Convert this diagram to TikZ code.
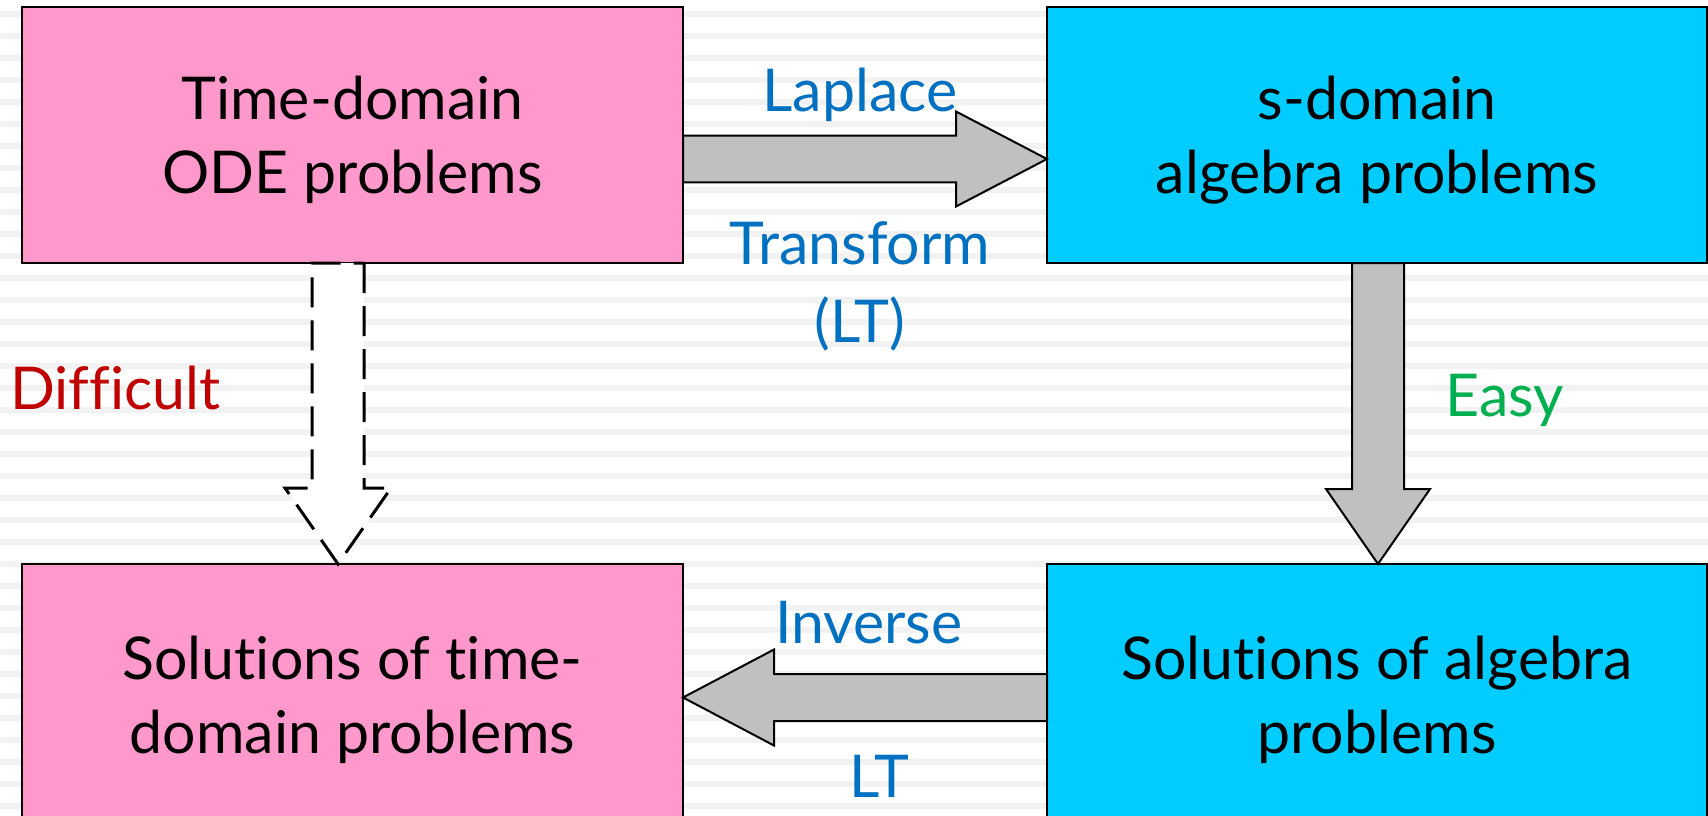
\documentclass[tikz,border=0pt]{standalone}
\usepackage{fontspec}
\setmainfont{Lato}[Ligatures={NoCommon}]
\usetikzlibrary{calc}
\definecolor{pinkbox}{HTML}{FF99CC}
\definecolor{cyanbox}{HTML}{00CCFF}
\definecolor{arrowgray}{HTML}{C0C0C0}
\definecolor{stripe}{HTML}{F2F2F2}
\definecolor{lblue}{HTML}{0070C0}
\definecolor{lred}{HTML}{C00000}
\definecolor{lgreen}{HTML}{00B050}
\tikzset{
  box/.style={draw=black, line width=2pt, minimum width=661pt, minimum height=256pt, inner sep=0pt, outer sep=0pt},
  boxtext/.style={font=\fontsize{59}{74}\selectfont, align=center, anchor=base, inner sep=0pt},
  lbl/.style={font=\fontsize{59}{78}\selectfont, align=center, anchor=base, inner sep=0pt},
  blockarrow/.style={draw=black, line width=2pt, fill=arrowgray, line join=miter},
  dashedarrow/.style={draw=black, line width=3pt, fill=white, dash pattern=on 30pt off 13pt},
}
% #1 style, #2 start, #3 end, #4 shaft half-width, #5 head half-width, #6 head length
\newcommand\blockarr[6]{%
  \coordinate (hb) at ($(#3)!#6!(#2)$);
  \draw[#1] ($(#2)!#4!90:(#3)$) -- ($(hb)!#4!-90:(#2)$) -- ($(hb)!#5!-90:(#2)$) -- (#3)
    -- ($(hb)!#5!90:(#2)$) -- ($(hb)!#4!90:(#2)$) -- ($(#2)!#4!-90:(#3)$) -- cycle;
}
\begin{document}
\begin{tikzpicture}[x=1pt, y=-1pt]
\clip (0,0) rectangle (1708,816);
\fill[white] (0,0) rectangle (1708,816);
\foreach \k in {0,...,36} {
  \fill[stripe] (0,{11+22*\k}) rectangle (1708,{17+22*\k});
}
% boxes
\node[box, fill=pinkbox] (tl) at (352.5,135) {};
\node[box, fill=cyanbox, minimum width=660pt] (tr) at (1377,135) {};
\node[box, fill=pinkbox] (bl) at (352.5,692) {};
\node[box, fill=cyanbox, minimum width=660pt] (br) at (1377,692) {};
% box texts (anchor base = baseline of last line)
\node[boxtext] (tlt) at (352.5,193) {Time-domain\\ODE problems};
\node[boxtext] (trt) at (1377,193) {s-domain\\algebra problems};
\node[boxtext] (blt) at (352.5,753) {Solutions of time-\\domain problems};
\node[boxtext] (brt) at (1377,753) {Solutions of algebra\\problems};
% arrow end points
\coordinate (ya) at (0,159);
\coordinate (yb) at (0,697.5);
\coordinate (xd) at (338,0);
\coordinate (xe) at (1378,0);
\coordinate (a1s) at (tl.east |- ya);
\coordinate (a1e) at (tr.west |- ya);
\coordinate (a2s) at (br.west |- yb);
\coordinate (a2e) at (bl.east |- yb);
\coordinate (a3s) at (xe |- tr.south);
\coordinate (a3e) at (xe |- br.north);
\coordinate (a4s) at (xd |- tl.south);
\coordinate (a4e) at (xd |- bl.north);
\blockarr{blockarrow}{a1s}{a1e}{23.3pt}{47.5pt}{91pt}
\blockarr{blockarrow}{a2s}{a2e}{23.5pt}{48pt}{91pt}
\blockarr{blockarrow}{a3s}{a3e}{26pt}{52pt}{75pt}
\blockarr{dashedarrow}{a4s}{a4e}{26pt}{53pt}{76pt}
% labels
\node[lbl, text=lblue] (laplace) at (860,111) {Laplace};
\node[lbl, text=lblue] (transform) at (860,342) {Transform\\(LT)};
\node[lbl, text=lblue] (inverse) at (869,643) {Inverse};
\node[lbl, text=lblue] (lt) at (879,797) {LT};
\node[lbl, text=lred] (difficult) at (115.5,409) {Difficult};
\node[lbl, text=lgreen] (easy) at (1505,416) {Easy};
\end{tikzpicture}
\end{document}
